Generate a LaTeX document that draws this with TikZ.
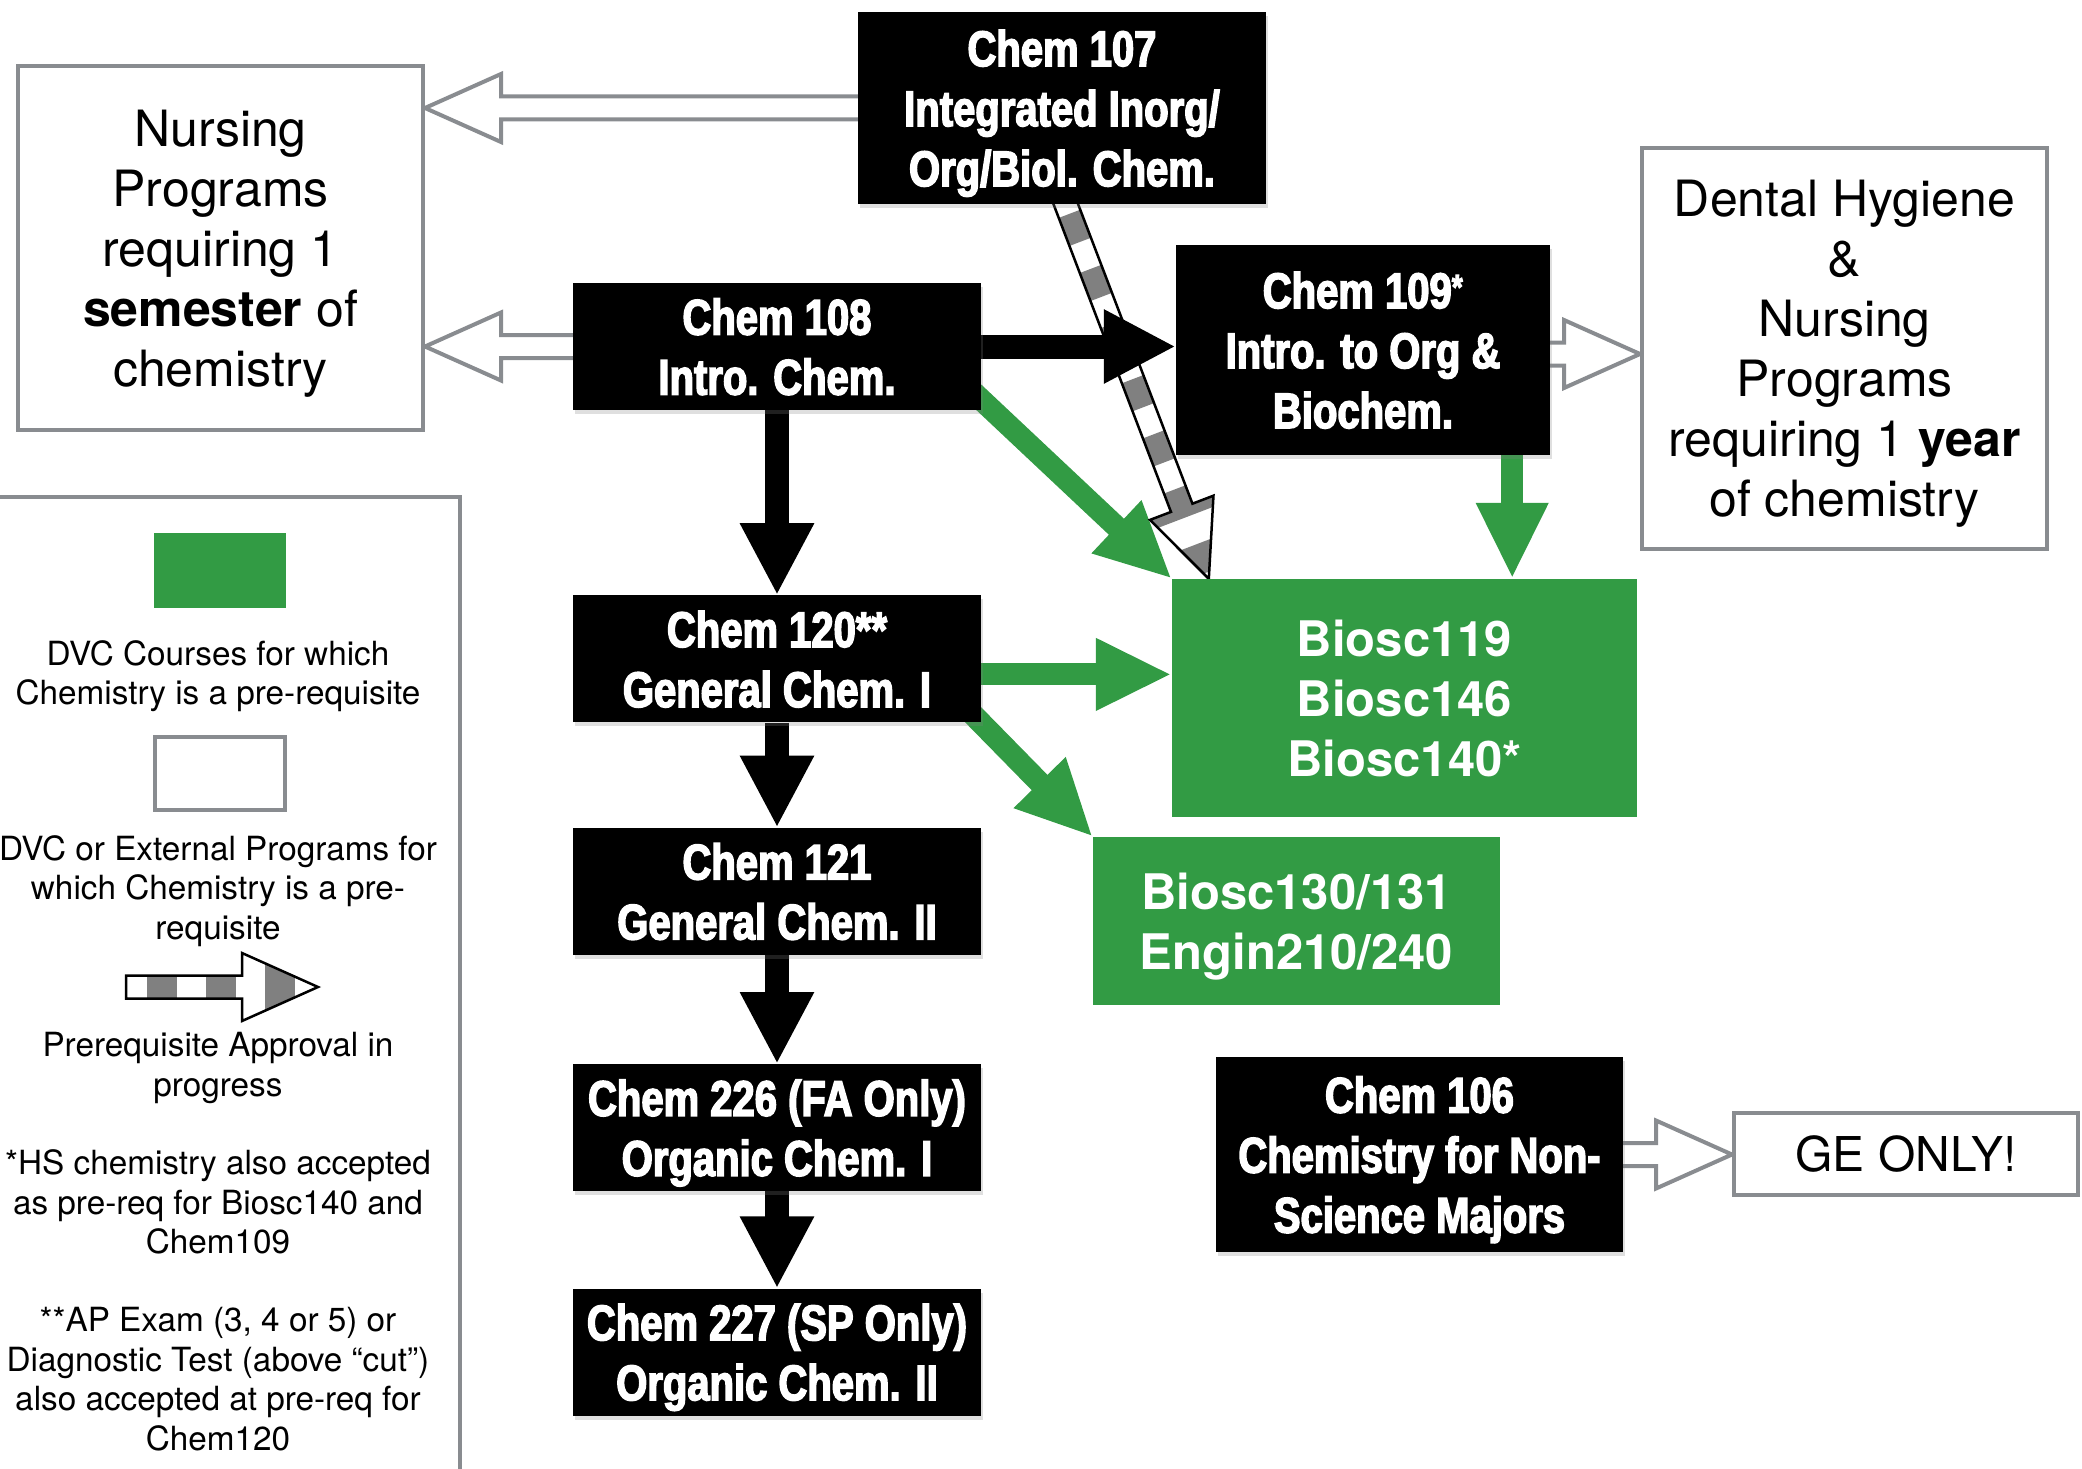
\documentclass[tikz,border=0pt]{standalone}
\usepackage{fontspec}
\setmainfont{TeX Gyre Heros}
\newfontfamily\impactfont{Liberation Sans}[FakeStretch=0.8, FakeBold=3]
\usetikzlibrary{positioning, calc, arrows.meta, shadows, backgrounds}

\definecolor{dvcgreen}{RGB}{50,155,68}
\definecolor{progray}{RGB}{137,140,144}
\definecolor{stripegray}{RGB}{128,128,128}

% fat arrow outline between two points
\newcommand\fatset[2]{%
    \coordinate (fs) at (#1);
    \coordinate (fe) at (#2);
    \coordinate (fb) at ($(fe)!76pt!(fs)$);}
\newcommand\fatpath{($(fs)!11.5pt!90:(fe)$) -- ($(fb)!11.5pt!-90:(fs)$) -- ($(fb)!34pt!-90:(fs)$) -- (fe) -- ($(fb)!34pt!90:(fs)$) -- ($(fb)!11.5pt!90:(fs)$) -- ($(fs)!11.5pt!-90:(fe)$) -- cycle}
% approval in progress arrow
\newcommand\stripedarrow[2]{%
    \fatset{#1}{#2}
    \begin{scope}
        \clip \fatpath;
        \draw[white, line width=90pt] (fs) -- (fe);
        \draw[stripegray, line width=90pt, dash pattern=on 30pt off 29pt, dash phase=38pt] (fs) -- (fe);
    \end{scope}
    \draw[black, line width=2.5pt] \fatpath;}

\begin{document}
\begin{tikzpicture}[
            x = 1pt, y = 1pt,
            course/.style = {fill=black, text=white, align=center, inner sep=0pt,
                minimum width=408pt, minimum height=127pt, text depth=-3pt,
                font=\impactfont\bfseries\fontsize{50}{60}\selectfont,
                drop shadow={opacity=0.25, shadow xshift=2pt, shadow yshift=-4pt}},
            bio/.style = {fill=dvcgreen, text=white, align=center, inner sep=0pt,
                font=\bfseries\fontsize{49}{60}\selectfont},
            prog/.style = {draw=progray, line width=4pt, fill=white, align=center, inner sep=0pt,
                font=\fontsize{50}{60}\selectfont},
            legtext/.style = {align=center, font=\fontsize{33.3}{39.5}\selectfont},
            fatblack/.style = {black, line width=24pt, -{Triangle[length=72pt, width=69pt]}},
            fatgreen/.style = {dvcgreen, line width=22pt, -{Triangle[length=76pt, width=67pt]}},
            hollow/.style = {draw=progray, fill=white, line width=4pt}
        ]
        \useasboundingbox (0,0) rectangle (2082,-1469);

        % chemistry courses
        \node[course, minimum height=192pt] (c107) at (1062,-108) {Chem 107\\Integrated Inorg/\\Org/Biol. Chem.};
        \node[course, text depth=-7pt] (c108) at (777,-346.5) {Chem 108\\Intro. Chem.};
        \node[course, text depth=-7pt, below=185pt of c108] (c120) {Chem 120**\\General Chem. I};
        \node[course, below=105pt of c120] (c121) {Chem 121\\General Chem. II};
        \node[course, below=109pt of c121] (c226) {Chem 226 (FA Only)\\Organic Chem. I};
        \node[course, below=97pt of c226] (c227) {Chem 227 (SP Only)\\Organic Chem. II};
        \node[course, minimum width=374pt, minimum height=210pt] (c109) at (1363,-350) {Chem 109\textsuperscript{*}\\Intro. to Org \&\\Biochem.};
        \node[course, minimum width=407pt, minimum height=195pt] (c106) at (1419.5,-1154.5) {Chem 106\\Chemistry for Non-\\Science Majors};

        % DVC courses needing chemistry
        \node[bio, minimum width=465pt, minimum height=238pt, text depth=-11pt] (biolist) at (1404.5,-698) {Biosc119\\Biosc146\\Biosc140*};
        \node[bio, minimum width=407pt, minimum height=168pt, text depth=-4pt] (engin) at (1296.5,-921) {Biosc130/131\\Engin210/240};

        % programs
        \node[prog, minimum width=405pt, minimum height=364pt, text depth=-9pt] (nurseone) at (220.5,-248) {Nursing\\Programs\\requiring 1\\\textbf{semester} of\\chemistry};
        \node[prog, minimum width=405pt, minimum height=401pt, text depth=-3pt] (nurseyear) at (1844.5,-348.5) {Dental Hygiene\\\&\\Nursing\\Programs\\requiring 1 \textbf{year}\\of chemistry};
        \node[prog, minimum width=344pt, minimum height=82pt, text depth=-11pt, font=\fontsize{48}{56}\selectfont] (geonly) at (1906,-1154) {GE ONLY!};

        \begin{scope}[on background layer]
            \draw[fatgreen] ($(c108.south east)+(-10,20)$) -- (biolist.north west);
            \draw[fatgreen] ($(c120.east)+(0,-15.5)$) coordinate (g120) -- (g120 -| biolist.west);
            \draw[fatgreen] ($(c120.south east)+(-20,20)$) -- (engin.north west);
            \draw[fatgreen] ($(c109.south east)+(-38,0)$) coordinate (g109) -- (g109 |- biolist.north);
            \stripedarrow{$(c107.south)+(0,10)$}{$(biolist.north west)+(37,0)$}
            \draw[fatblack] (c108.east) -- (c108.east -| c109.west);
            \draw[fatblack] (c108) -- (c120);
            \draw[fatblack] (c120) -- (c121);
            \draw[fatblack] (c121) -- (c226);
            \draw[fatblack] (c226) -- (c227);

            \fatset{$(c107.west)+(20,0)$}{c107.west -| nurseone.east}
            \draw[hollow] \fatpath;
            \fatset{$(c108.west)+(20,0)$}{c108.west -| nurseone.east}
            \draw[hollow] \fatpath;
            \coordinate (h109) at ($(c109.east)+(0,-4)$);
            \fatset{$(h109)+(-20,0)$}{h109 -| nurseyear.west}
            \draw[hollow] \fatpath;
            \fatset{$(c106.east)+(-20,0)$}{c106.east -| geonly.west}
            \draw[hollow] \fatpath;
        \end{scope}

        % legend
        \node[draw=progray, line width=4pt, minimum width=490pt, minimum height=1010pt] (legend) at (215,-1002) {};
        \node[fill=dvcgreen, minimum width=132pt, minimum height=75pt] (keygreen) at (220,-570.5) {};
        \node[legtext] (keygreentext) at (218,-676) {DVC Courses for which\\Chemistry is a pre-requisite};
        \node[draw=progray, line width=4pt, minimum width=130pt, minimum height=73pt] (keywhite) at (220,-773.5) {};
        \node[legtext] (keywhitetext) at (218,-891) {DVC or External Programs for\\which Chemistry is a pre-\\requisite};
        \stripedarrow{126,-987}{318,-987}
        \node[legtext] (keystripetext) at (218,-1068) {Prerequisite Approval in\\progress};
        \node[legtext] (notehs) at (218,-1202) {*HS chemistry also accepted\\as pre-req for Biosc140 and\\Chem109};
        \node[legtext] (noteap) at (218,-1379) {**AP Exam (3, 4 or 5) or\\Diagnostic Test (above “cut”)\\also accepted at pre-req for\\Chem120};
    \end{tikzpicture}
\end{document}
